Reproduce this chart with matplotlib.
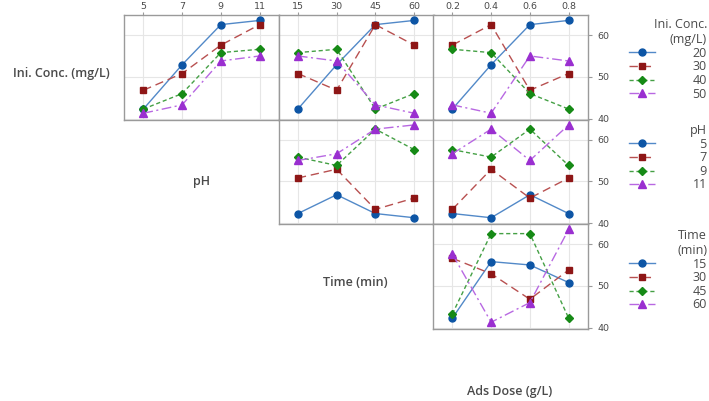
import matplotlib.pyplot as plt
from matplotlib.lines import Line2D
import pandas as pd

plt.rcParams['font.family'] = ['Open Sans', 'DejaVu Sans']

# factor levels
conc_levels = [20, 30, 40, 50]
ph_levels = [5, 7, 9, 11]
time_levels = [15, 30, 45, 60]
dose_levels = [0.2, 0.4, 0.6, 0.8]

# L16 runs (level index of each factor) and response
conc_idx = [1, 1, 1, 1, 2, 2, 2, 2, 3, 3, 3, 3, 4, 4, 4, 4]
ph_idx = [1, 2, 3, 4, 1, 2, 3, 4, 1, 2, 3, 4, 1, 2, 3, 4]
time_idx = [1, 2, 3, 4, 2, 1, 4, 3, 3, 4, 1, 2, 4, 3, 2, 1]
dose_idx = [1, 2, 3, 4, 3, 4, 1, 2, 4, 3, 2, 1, 2, 1, 4, 3]
response = [42.3, 52.9, 62.5, 63.5, 46.8, 50.8, 57.6, 62.5,
            42.3, 46.0, 55.8, 56.6, 41.3, 43.3, 53.8, 55.0]

df = pd.DataFrame({
    'conc': [conc_levels[i - 1] for i in conc_idx],
    'ph': [ph_levels[i - 1] for i in ph_idx],
    'time': [time_levels[i - 1] for i in time_idx],
    'dose': [dose_levels[i - 1] for i in dose_idx],
    'y': response,
})

row_factors = [('conc', conc_levels, 'Ini. Conc.\n(mg/L)'),
               ('ph', ph_levels, 'pH'),
               ('time', time_levels, 'Time\n(min)')]
col_factors = [('ph', ph_levels), ('time', time_levels), ('dose', dose_levels)]

styles = [
    dict(color='#5289c8', ls='-', marker='o', mfc='#0d55a5', mec='#0d55a5', ms=5.0),
    dict(color='#b85050', ls=(0, (6, 3.5)), marker='s', mfc='#8e1616', mec='#8e1616', ms=4.6),
    dict(color='#45a045', ls=(0, (3, 2)), marker='D', mfc='#168a16', mec='#168a16', ms=4.2),
    dict(color='#b868e2', ls=(0, (7, 2.5, 1.5, 2.5)), marker='^', mfc='#9a2fd0', mec='#9a2fd0', ms=5.6),
]

W, H = 709, 401
fig = plt.figure(figsize=(W / 100, H / 100), dpi=100)

col_x = [124, 278.5, 433]
row_y = [15, 119.5, 224]
pw, ph = 155, 104.5
spine_c = '#9a9a9a'
text_c = '#4a4a4a'

for r, (rname, rlevels, rtitle) in enumerate(row_factors):
    for c, (cname, clevels) in enumerate(col_factors):
        if c < r:
            continue
        ax = fig.add_axes([col_x[c] / W, 1 - (row_y[r] + ph) / H, pw / W, ph / H])
        tab = df.pivot_table(index=cname, columns=rname, values='y', aggfunc='mean')
        tab = tab.reindex(index=clevels, columns=rlevels)
        for k, lev in enumerate(rlevels):
            ax.plot(range(len(clevels)), tab[lev].values, lw=1.0, **styles[k], zorder=3)
        ax.set_xlim(-0.5, 3.5)
        ax.set_ylim(39.8, 64.8)
        ax.set_xticks(range(4))
        ax.set_xticklabels([str(v) for v in clevels], family='DejaVu Sans')
        ax.set_yticks([40, 50, 60])
        ax.set_yticklabels(['40', '50', '60'], family='DejaVu Sans')
        ax.grid(True, color='#e6e6e6', lw=0.8, zorder=0)
        for s in ax.spines.values():
            s.set_color(spine_c)
            s.set_linewidth(1.0)
        ax.tick_params(axis='x', bottom=False, top=(r == 0), labelbottom=False,
                       labeltop=(r == 0), length=2.5, color=spine_c, labelsize=6.8,
                       labelcolor=text_c, pad=0.5)
        ax.tick_params(axis='y', left=False, labelleft=False, right=(c == 2),
                       labelright=(c == 2), length=3, color=spine_c, labelsize=6.8,
                       labelcolor=text_c, pad=4)
        if c == 2:
            handles = [Line2D([], [], lw=1.0, **styles[k]) for k in range(len(rlevels))]
            width = max(len(str(v)) for v in rlevels)
            labels = ['\u2007' * (width - len(str(v))) + str(v) for v in rlevels]
            top = [18, 124, 229][r]
            leg = fig.legend(handles, labels, title=rtitle, loc='upper right',
                             bbox_to_anchor=(707 / W, 1 - top / H), frameon=False,
                             fontsize=9, title_fontsize=9, handlelength=2.1,
                             handletextpad=3.0, labelspacing=0.05, alignment='right',
                             borderaxespad=0, borderpad=0)
            leg.get_title().set_multialignment('right')
            leg.get_title().set_color(text_c)
            for t in leg.get_texts():
                t.set_color(text_c)

# factor names on the diagonal
names = [('Ini. Conc. (mg/L)', 61, 73), ('pH', 201, 182),
         ('Time (min)', 355, 283), ('Ads Dose (g/L)', 510, 392)]
for txt, x, y in names:
    fig.text(x / W, 1 - y / H, txt, ha='center', va='center', fontsize=9,
             fontweight='semibold', color=text_c)

fig.savefig('out.png', dpi=100)
